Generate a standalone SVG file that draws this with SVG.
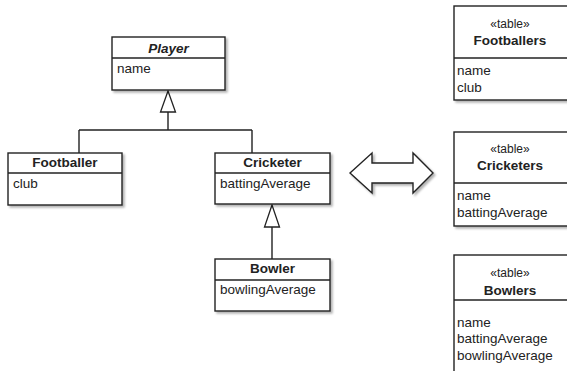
<svg xmlns="http://www.w3.org/2000/svg" width="567" height="371" viewBox="0 0 567 371">
<style>
.box{fill:#fff;stroke:#222;stroke-width:1.4;filter:url(#sh)}
.ln{fill:none;stroke:#222;stroke-width:1.4}
.tri{fill:#fff;stroke:#222;stroke-width:1.3}
text{font-family:"Liberation Sans",Arial,sans-serif;font-size:13.5px;fill:#222}
.t{font-weight:bold;text-anchor:middle}
.st{font-size:12px;text-anchor:middle}
</style>
<defs>
<filter id="sh" x="-10%" y="-10%" width="130%" height="130%">
<feDropShadow dx="2" dy="2" stdDeviation="1" flood-color="#000" flood-opacity="0.3"/>
</filter>
</defs>
<g id="connectors">
<path class="ln" d="M168 112V130M79 130H252M79 130V153M252 130V153"/>
<polygon class="tri" points="168,91 160.5,112 175.5,112"/>
<path class="ln" d="M272 227V259"/>
<polygon class="tri" points="272,205 264.5,227 279.5,227"/>
<polygon class="box" points="350,173 372,153 372,163 413,163 413,153 433,173 413,193 413,183 372,183 372,193"/>
</g>
<g id="player">
<rect class="box" x="112" y="37" width="113" height="53"/>
<path class="ln" d="M112 58H225"/>
<text class="t" x="168.5" y="53" font-style="italic">Player</text>
<text x="117" y="73">name</text>
</g>
<g id="footballer">
<rect class="box" x="8" y="153" width="114" height="52"/>
<path class="ln" d="M8 173H122"/>
<text class="t" x="65" y="167">Footballer</text>
<text x="13" y="188">club</text>
</g>
<g id="cricketer">
<rect class="box" x="215" y="153" width="115" height="51"/>
<path class="ln" d="M215 173H330"/>
<text class="t" x="272.5" y="167">Cricketer</text>
<text x="220" y="188">battingAverage</text>
</g>
<g id="bowler">
<rect class="box" x="215" y="259" width="115" height="52"/>
<path class="ln" d="M215 280H330"/>
<text class="t" x="272.5" y="273">Bowler</text>
<text x="220" y="294">bowlingAverage</text>
</g>
<g id="footballers">
<rect class="box" x="454" y="6" width="120" height="94"/>
<path class="ln" d="M454 58H574"/>
<text class="st" x="510" y="28">«table»</text>
<text class="t" x="510" y="45">Footballers</text>
<text x="457" y="75">name</text>
<text x="457" y="92">club</text>
</g>
<g id="cricketers">
<rect class="box" x="454" y="132" width="120" height="94"/>
<path class="ln" d="M454 183H574"/>
<text class="st" x="510" y="153">«table»</text>
<text class="t" x="510" y="170">Cricketers</text>
<text x="457" y="200">name</text>
<text x="457" y="217">battingAverage</text>
</g>
<g id="bowlers">
<rect class="box" x="454" y="255" width="120" height="130"/>
<path class="ln" d="M454 300H574"/>
<text class="st" x="510" y="277">«table»</text>
<text class="t" x="510" y="295">Bowlers</text>
<text x="457" y="327">name</text>
<text x="457" y="343">battingAverage</text>
<text x="457" y="360">bowlingAverage</text>
</g>
</svg>
